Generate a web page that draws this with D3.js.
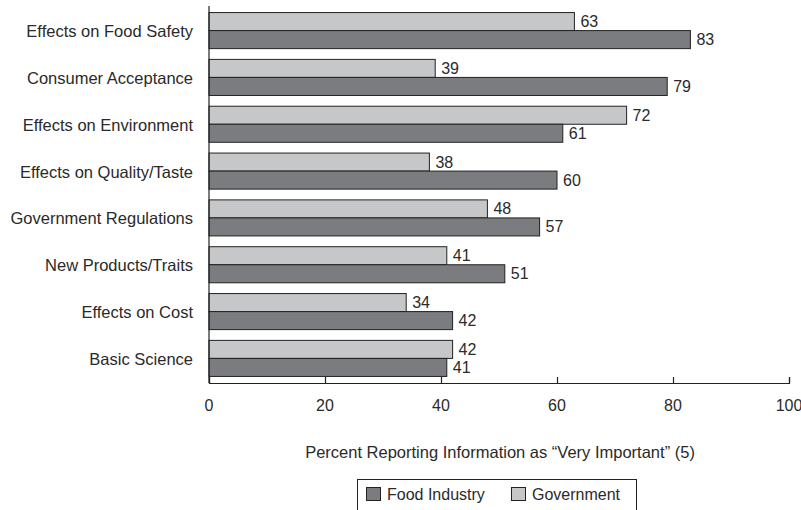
<!DOCTYPE html>
<html>
<head>
<meta charset="utf-8">
<script src="https://cdn.jsdelivr.net/npm/d3@7"></script>
<style>
  html, body { margin: 0; padding: 0; background: #fff; }
  svg { display: block; font-family: "Liberation Sans", Arial, sans-serif; }
</style>
</head>
<body>
<svg id="chart" width="801" height="510"></svg>
<script>
// Survey topics, top to bottom
const categories = [
  "Effects on Food Safety",
  "Consumer Acceptance",
  "Effects on Environment",
  "Effects on Quality/Taste",
  "Government Regulations",
  "New Products/Traits",
  "Effects on Cost",
  "Basic Science"
];
// Percent rating each topic "very important"
const governmentValues = [63, 39, 72, 38, 48, 41, 34, 42];
const foodIndustryValues = [83, 79, 61, 60, 57, 51, 42, 41];
const seriesNames = ["Government", "Food Industry"];
const tickValues = [0, 20, 40, 60, 80, 100];
const axisTitle = "Percent Reporting Information as \u201cVery Important\u201d (5)";

const colors = { "Government": "#c5c7c9", "Food Industry": "#7a7c7f" };
const ink = "#222";
const textInk = "#2a2a2a";

const svg = d3.select("#chart");

const x = d3.scaleLinear().domain([0, 100]).range([209, 789]);
const y = d3.scaleBand().domain(categories).range([6, 383])
  .paddingInner(0.23).paddingOuter(0.14);
const ySub = d3.scaleBand().domain(seriesNames).range([0, y.bandwidth()]);

const rows = categories.map((c, i) => ({
  category: c,
  values: [
    { series: "Government", value: governmentValues[i] },
    { series: "Food Industry", value: foodIndustryValues[i] }
  ]
}));

const groups = svg.append("g").selectAll("g")
  .data(rows).join("g")
  .attr("transform", d => `translate(0,${y(d.category)})`);

groups.selectAll("rect")
  .data(d => d.values).join("rect")
  .attr("x", x(0))
  .attr("y", d => ySub(d.series))
  .attr("width", d => x(d.value) - x(0))
  .attr("height", ySub.bandwidth())
  .attr("fill", d => colors[d.series])
  .attr("stroke", ink)
  .attr("stroke-width", 1);

groups.selectAll("text.val")
  .data(d => d.values).join("text")
  .attr("class", "val")
  .attr("x", d => x(d.value) + 6)
  .attr("y", d => ySub(d.series) + ySub.bandwidth() / 2 + 5.5)
  .attr("font-size", 16)
  .attr("fill", textInk)
  .text(d => d.value);

// Category labels
svg.append("g").selectAll("text")
  .data(categories).join("text")
  .attr("x", 193)
  .attr("y", d => y(d) + y.bandwidth() / 2 + 6.5)
  .attr("text-anchor", "end")
  .attr("font-size", 16.5)
  .attr("fill", textInk)
  .text(d => d);

// Vertical axis line
svg.append("line")
  .attr("x1", x(0)).attr("x2", x(0))
  .attr("y1", 6).attr("y2", 383)
  .attr("stroke", ink).attr("stroke-width", 1.2);

// Horizontal axis with inward ticks
const xAxis = d3.axisTop(x).tickValues(tickValues).tickSize(6).tickFormat("");
const axG = svg.append("g").attr("transform", "translate(0,383)").call(xAxis);
axG.select(".domain").attr("stroke", ink).attr("stroke-width", 1.2);
axG.selectAll(".tick line").attr("stroke", ink).attr("stroke-width", 1.2);

svg.append("g").selectAll("text")
  .data(tickValues).join("text")
  .attr("x", d => x(d))
  .attr("y", 411)
  .attr("text-anchor", "middle")
  .attr("font-size", 16)
  .attr("fill", textInk)
  .text(d => d);

svg.append("text")
  .attr("x", 500).attr("y", 458)
  .attr("text-anchor", "middle")
  .attr("font-size", 16.5)
  .attr("fill", textInk)
  .text(axisTitle);

// Legend
const legend = svg.append("g");
legend.append("rect")
  .attr("x", 357.5).attr("y", 479.5).attr("width", 279).attr("height", 40)
  .attr("fill", "#fff").attr("stroke", ink).attr("stroke-width", 1);
const legendItems = [
  { name: "Food Industry", x: 366 },
  { name: "Government", x: 511 }
];
legend.selectAll("rect.sw").data(legendItems).join("rect")
  .attr("class", "sw")
  .attr("x", d => d.x + 0.5).attr("y", 487.5)
  .attr("width", 14).attr("height", 13)
  .attr("fill", d => colors[d.name]).attr("stroke", ink);
legend.selectAll("text").data(legendItems).join("text")
  .attr("x", d => d.x + 21).attr("y", 499.5)
  .attr("font-size", 16)
  .attr("fill", textInk)
  .text(d => d.name);
</script>
</body>
</html>
